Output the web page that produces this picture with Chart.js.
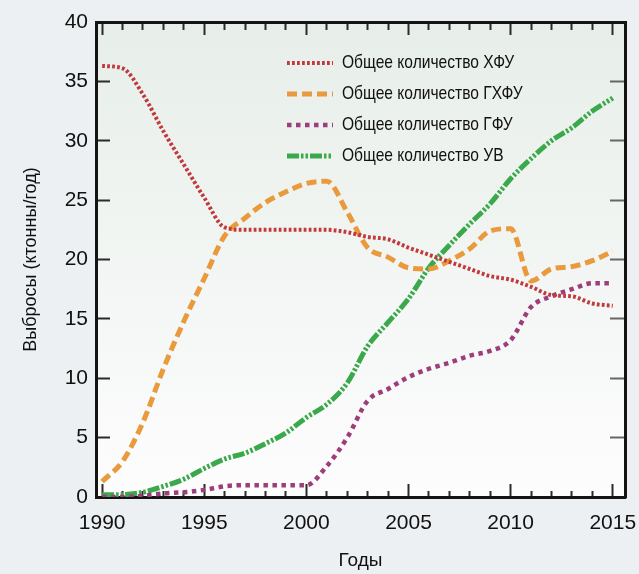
<!DOCTYPE html>
<html>
<head>
<meta charset="utf-8">
<script src="https://cdn.jsdelivr.net/npm/chart.js@4.4.1/dist/chart.umd.min.js"></script>
<style>
  html, body { margin: 0; padding: 0; background: #edf0f3; }
  #myChart { display: block; }
</style>
</head>
<body>
<canvas id="myChart" width="639" height="574"></canvas>
<script>
const years = [1990, 1991, 1992, 1993, 1994, 1995, 1996, 1997, 1998, 1999, 2000, 2001, 2002,
    2003, 2004, 2005, 2006, 2007, 2008, 2009, 2010, 2011, 2012, 2013, 2014, 2015]
const cfc = [36.3, 36.1, 33.9, 30.8, 28.0, 25.2, 22.7, 22.5, 22.5, 22.5, 22.5, 22.5, 22.3,
    21.9, 21.7, 21.0, 20.4, 19.8, 19.2, 18.6, 18.3, 17.7, 17.0, 16.9, 16.3, 16.1]
const hcfc = [1.3, 3.0, 6.3, 10.8, 14.8, 18.4, 22.0, 23.5, 24.8, 25.7, 26.4, 26.6, 24.0,
    21.0, 20.2, 19.3, 19.2, 19.9, 20.9, 22.4, 22.6, 18.2, 19.2, 19.4, 19.9, 20.7]
const hfc = [0.0, 0.0, 0.1, 0.3, 0.4, 0.6, 0.9, 1.0, 1.0, 1.0, 1.0, 2.6, 5.0,
    8.1, 9.1, 10.1, 10.8, 11.3, 11.9, 12.3, 13.2, 16.0, 16.9, 17.5, 18.0, 18.0]
const co2 = [0.2, 0.2, 0.4, 0.9, 1.5, 2.4, 3.2, 3.7, 4.5, 5.4, 6.7, 7.8, 9.6,
    12.7, 14.7, 16.7, 19.3, 21.2, 23.0, 24.7, 26.8, 28.5, 30.0, 31.1, 32.5, 33.6]
const seriesNames = ['Общее количество ХФУ', 'Общее количество ГХФУ', 'Общее количество ГФУ', 'Общее количество УВ']

function toPoints(vals) {
    return years.map((y, i) => ({ x: y, y: vals[i] }))
}

const styles = [
    { color: '#c1393d', dash: [2.8, 2.2], width: 4 },
    { color: '#e99a3c', dash: [10, 5], width: 5 },
    { color: '#9e3d7c', dash: [4.5, 4.5], width: 4.5 },
    { color: '#3aa94b', dash: [12, 2, 2.5, 2, 2.5, 2], width: 5 }
]

const font = '"Liberation Sans", Arial, sans-serif'
const frame = { display: true, color: '#141414', width: 3 }

// background + gradient plot area
const bgPlugin = {
    id: 'bgfill',
    beforeDraw(chart) {
        const c = chart.ctx, a = chart.chartArea
        c.save()
        c.fillStyle = '#edf0f3'
        c.fillRect(0, 0, chart.width, chart.height)
        const g = c.createLinearGradient(0, a.top, 0, a.bottom)
        g.addColorStop(0, '#e7eee9')
        g.addColorStop(1, '#fdfdfd')
        c.fillStyle = g
        c.fillRect(a.left, a.top, a.right - a.left, a.bottom - a.top)
        c.restore()
    }
}

// legend inside the plot
const legendPlugin = {
    id: 'innerlegend',
    afterDraw(chart) {
        const c = chart.ctx, a = chart.chartArea
        c.save()
        c.font = '19px ' + font
        c.textBaseline = 'middle'
        chart.data.datasets.forEach((ds, i) => {
            const y = a.top + 41 + i * 31
            const x0 = a.left + 191
            c.strokeStyle = ds.borderColor
            c.lineWidth = ds.borderWidth
            c.setLineDash(ds.borderDash)
            c.beginPath()
            c.moveTo(x0, y); c.lineTo(x0 + 46, y)
            c.stroke()
            c.setLineDash([])
            // narrow face not installed, squeeze regular one
            c.save()
            c.fillStyle = '#111'
            c.translate(x0 + 55, y)
            c.scale(0.82, 1)
            c.fillText(ds.label, 0, 0)
            c.restore()
        })
        c.restore()
    }
}

const isMinor = c => c.tick && c.tick.value % 5 !== 0

var ctx = document.getElementById('myChart')
const myChart = new Chart(ctx, {
    type: 'line',
    data: {
        datasets: [cfc, hcfc, hfc, co2].map((vals, i) => ({
            label: seriesNames[i],
            data: toPoints(vals),
            borderColor: styles[i].color,
            borderWidth: styles[i].width,
            borderDash: styles[i].dash,
            pointRadius: 0,
            fill: false,
            cubicInterpolationMode: 'monotone'
        }))
    },
    options: {
        responsive: false,
        animation: false,
        layout: { padding: { top: 22, right: 14, left: 0, bottom: 0 } },
        plugins: { legend: { display: false }, tooltip: { enabled: false } },
        scales: {
            x: {
                type: 'linear',
                z: 1,
                min: 1989.7,
                max: 2015.6,
                afterBuildTicks: s => { s.ticks = years.map(v => ({ value: v })) },
                afterFit: s => { s.height = 77; s.paddingLeft = 0; s.paddingRight = 0 },
                grid: {
                    drawOnChartArea: false,
                    tickLength: -13,
                    tickWidth: 2,
                    tickColor: '#2a2a2a',
                    tickBorderDash: c => (isMinor(c) ? [8, 30] : [])
                },
                border: frame,
                ticks: {
                    autoSkip: false,
                    maxRotation: 0,
                    padding: 27,
                    color: '#111',
                    font: { family: font, size: 21 },
                    callback: v => (v % 5 === 0 ? String(v) : '')
                },
                title: {
                    display: true,
                    text: 'Годы',
                    color: '#111',
                    padding: { top: 0, bottom: 2 },
                    font: { family: font, size: 19 }
                }
            },
            x2: {
                type: 'linear',
                position: 'top',
                z: 1,
                min: 1989.7,
                max: 2015.6,
                afterBuildTicks: s => { s.ticks = years.map(v => ({ value: v })) },
                afterFit: s => { s.height = 0; s.paddingLeft = 0; s.paddingRight = 0 },
                grid: {
                    drawOnChartArea: false,
                    tickLength: -13,
                    tickWidth: 2,
                    tickColor: '#2a2a2a',
                    tickBorderDash: c => (isMinor(c) ? [0, 5, 8, 30] : [])
                },
                border: frame,
                ticks: { display: false }
            },
            y: {
                z: 1,
                min: 0,
                max: 40,
                afterFit: s => { s.width = 96; s.paddingTop = 0; s.paddingBottom = 0 },
                grid: {
                    drawOnChartArea: false,
                    tickLength: -14,
                    tickWidth: 2,
                    tickColor: '#2a2a2a'
                },
                border: frame,
                ticks: {
                    stepSize: 5,
                    padding: 22,
                    color: '#111',
                    font: { family: font, size: 21 }
                },
                title: {
                    display: true,
                    text: 'Выбросы (ктонны/год)',
                    color: '#111',
                    padding: { top: 20, bottom: 0 },
                    font: { family: font, size: 18 }
                }
            },
            y2: {
                position: 'right',
                z: 1,
                min: 0,
                max: 40,
                afterFit: s => { s.width = 0; s.paddingTop = 0; s.paddingBottom = 0 },
                grid: {
                    drawOnChartArea: false,
                    tickLength: -15,
                    tickWidth: 2,
                    tickColor: '#666'
                },
                border: frame,
                ticks: { display: false, stepSize: 5 }
            }
        }
    },
    plugins: [bgPlugin, legendPlugin]
})
</script>
</body>
</html>
